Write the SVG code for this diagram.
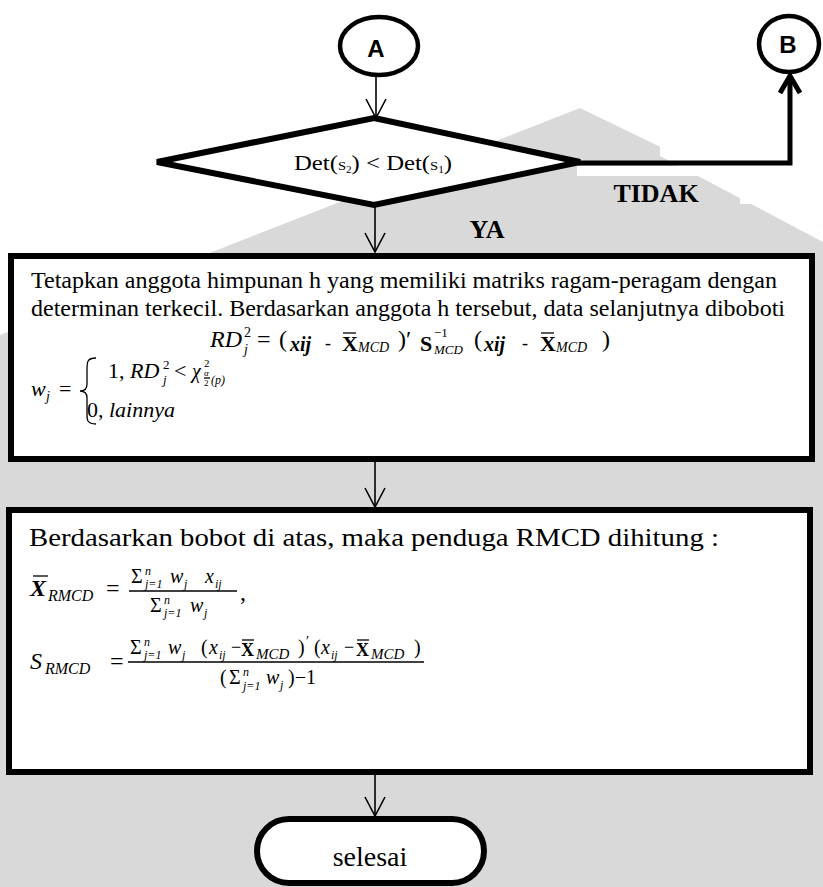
<svg xmlns="http://www.w3.org/2000/svg" width="823" height="887" viewBox="0 0 823 887">
<defs>
<style>
.bg{fill:#d9d9d9}
.node{fill:#fff;stroke:#000;stroke-width:6}
.circ{fill:#fff;stroke:#000;stroke-width:4.5}
.conn{fill:none;stroke:#000;stroke-width:1.6}
.thick{fill:none;stroke:#000;stroke-width:5}
.s{font-family:"Liberation Serif","Times New Roman",serif;fill:#000}
.sans{font-family:"Liberation Sans",Arial,sans-serif;font-weight:bold;font-size:24px;fill:#000}
.lbl{font-family:"Liberation Serif","Times New Roman",serif;font-weight:bold;font-size:26px;fill:#000}
.it{font-style:italic}
.bd{font-weight:bold}
.bar{stroke:#000;stroke-width:1.3;fill:none}
</style>
<marker id="open" markerUnits="userSpaceOnUse" viewBox="0 0 24 24" markerWidth="24" markerHeight="24" refX="22" refY="12" orient="auto"><path d="M3,2 L22,12 L3,22" fill="none" stroke="#000" stroke-width="1.6"/></marker>
<marker id="heavy" markerUnits="userSpaceOnUse" viewBox="0 0 28 28" markerWidth="28" markerHeight="28" refX="22" refY="14" orient="auto"><path d="M5,4 L22,14 L5,24" fill="none" stroke="#000" stroke-width="5"/></marker>
</defs>

<g id="background">
<rect width="823" height="887" fill="#fff"/>
<polygon class="bg" points="0,335 580,108 823,226 823,887 0,887"/>
<polygon fill="#fff" points="660,140 823,226 823,242 660,156"/>
<rect x="577" y="166" width="163" height="10" fill="#fff"/>
<rect x="740" y="166" width="83" height="38" fill="#fff"/>
</g>

<g id="connectors">
<path class="conn" d="M376,76 L376,118" marker-end="url(#open)"/>
<path class="conn" d="M375,205 L375,252" marker-end="url(#open)"/>
<path class="conn" d="M375,462 L375,507" marker-end="url(#open)"/>
<path class="conn" d="M375,775 L375,816" marker-end="url(#open)"/>
<path class="thick" d="M578,163 L790,163 L790,76" marker-end="url(#heavy)"/>
<text class="lbl" x="656" y="202" text-anchor="middle">TIDAK</text>
<text class="lbl" x="487" y="238" text-anchor="middle">YA</text>
</g>

<g id="nodeA">
<ellipse class="circ" cx="379" cy="46" rx="39" ry="29"/>
<text class="sans" x="376" y="57" text-anchor="middle">A</text>
</g>

<g id="nodeB">
<ellipse class="circ" cx="789" cy="44" rx="30" ry="28"/>
<text class="sans" x="788" y="53" text-anchor="middle">B</text>
</g>

<g id="decision">
<polygon class="node" points="374,118 580,162 374,205 157,162"/>
<text class="s" font-size="22" x="294" y="170" textLength="158" lengthAdjust="spacingAndGlyphs">Det(<tspan font-size="13">S</tspan><tspan font-size="10" dy="3">2</tspan><tspan dy="-3">) &lt; Det(</tspan><tspan font-size="13">S</tspan><tspan font-size="10" dy="3">1</tspan><tspan dy="-3">)</tspan></text>
</g>

<g id="process1">
<rect class="node" x="11" y="256" width="801" height="203"/>
<text class="s" font-size="24" x="31" y="288" textLength="746" lengthAdjust="spacingAndGlyphs">Tetapkan anggota himpunan h yang memiliki matriks ragam-peragam dengan</text>
<text class="s" font-size="24" x="31" y="316" textLength="754" lengthAdjust="spacingAndGlyphs">determinan terkecil. Berdasarkan anggota h tersebut, data selanjutnya diboboti</text>
<g id="rd-formula">
<text class="s it" font-size="24" x="210" y="347">RD</text>
<text class="s" font-size="14" x="244" y="337">2</text>
<text class="s it" font-size="14" x="244" y="354">j</text>
<text class="s" font-size="24" x="257" y="347">=</text>
<text class="s" font-size="24" x="279" y="347">(</text>
<text class="s it bd" font-size="20" x="290" y="351">xij</text>
<text class="s" font-size="18" x="325" y="349">-</text>
<text class="s bd" font-size="22" x="342" y="351">X</text>
<line class="bar" x1="343" y1="333" x2="356" y2="333"/>
<text class="s it" font-size="14" x="358" y="352">MCD</text>
<text class="s" font-size="24" x="398" y="347">)′</text>
<text class="s bd" font-size="22" x="420" y="351">S</text>
<text class="s" font-size="13" x="434" y="337">−1</text>
<text class="s it" font-size="13" x="434" y="354">MCD</text>
<text class="s" font-size="24" x="474" y="347">(</text>
<text class="s it bd" font-size="20" x="484" y="351">xij</text>
<text class="s" font-size="18" x="522" y="349">-</text>
<text class="s bd" font-size="22" x="540" y="351">X</text>
<line class="bar" x1="541" y1="333" x2="554" y2="333"/>
<text class="s it" font-size="14" x="556" y="352">MCD</text>
<text class="s" font-size="24" x="602" y="347">)</text>
</g>
<g id="w-formula">
<text class="s it" font-size="22" x="31" y="396">w</text>
<text class="s it" font-size="14" x="46" y="401">j</text>
<text class="s" font-size="22" x="59" y="396">=</text>
<path class="bar" d="M96,358 C87,358 87,362 87,370 L87,384 C87,389 84,391 80,391 C84,391 87,393 87,398 L87,414 C87,420 87,424 96,424"/>
<text class="s" font-size="22" x="108" y="378">1, <tspan class="it">RD</tspan></text>
<text class="s" font-size="13" x="163" y="369">2</text>
<text class="s it" font-size="13" x="163" y="384">j</text>
<text class="s" font-size="22" x="174" y="378">&lt;</text>
<text class="s it" font-size="20" x="192" y="378">χ</text>
<text class="s" font-size="11" x="204" y="367">2</text>
<text class="s it" font-size="9" x="204" y="376">α</text>
<line class="bar" x1="204" y1="378" x2="210" y2="378" stroke-width="0.8"/>
<text class="s" font-size="9" x="204" y="386">2</text>
<text class="s it" font-size="12" x="211" y="384">(p)</text>
<text class="s" font-size="22" x="87" y="417">0, <tspan class="it">lainnya</tspan></text>
</g>
</g>

<g id="process2">
<rect class="node" x="9" y="510" width="801" height="262"/>
<text class="s" font-size="25" x="29" y="546" textLength="690" lengthAdjust="spacingAndGlyphs">Berdasarkan bobot di atas, maka penduga  RMCD dihitung :</text>
<g id="x-formula">
<text class="s it bd" font-size="24" x="30" y="596">X</text>
<line class="bar" x1="33" y1="576" x2="48" y2="576" stroke-width="1.6"/>
<text class="s it" font-size="16" x="48" y="601">RMCD</text>
<text class="s" font-size="24" x="106" y="596">=</text>
<text class="s" font-size="20" x="131" y="583">Σ</text>
<text class="s it" font-size="12" x="145" y="575">n</text>
<text class="s it" font-size="12" x="145" y="588">j=1</text>
<text class="s it" font-size="20" x="170" y="583">w</text>
<text class="s it" font-size="12" x="184" y="588">j</text>
<text class="s it" font-size="20" x="205" y="583">x</text>
<text class="s it" font-size="12" x="215" y="588">ij</text>
<line class="bar" x1="129" y1="591" x2="237" y2="591"/>
<text class="s" font-size="20" x="150" y="612">Σ</text>
<text class="s it" font-size="12" x="164" y="604">n</text>
<text class="s it" font-size="12" x="164" y="617">j=1</text>
<text class="s it" font-size="20" x="190" y="612">w</text>
<text class="s it" font-size="12" x="204" y="617">j</text>
<text class="s" font-size="24" x="240" y="600">,</text>
</g>
<g id="s-formula">
<text class="s it" font-size="24" x="30" y="669">S</text>
<text class="s it" font-size="16" x="45" y="674">RMCD</text>
<text class="s" font-size="24" x="110" y="669">=</text>
<text class="s" font-size="20" x="130" y="654">Σ</text>
<text class="s it" font-size="12" x="144" y="646">n</text>
<text class="s it" font-size="12" x="144" y="659">j=1</text>
<text class="s it" font-size="20" x="168" y="654">w</text>
<text class="s it" font-size="12" x="182" y="659">j</text>
<text class="s" font-size="20" x="201" y="654">(</text>
<text class="s it" font-size="20" x="209" y="654">x</text>
<text class="s it" font-size="12" x="219" y="659">ij</text>
<text class="s" font-size="18" x="231" y="653">−</text>
<text class="s bd" font-size="18" x="241" y="656">X</text>
<line class="bar" x1="242" y1="640" x2="254" y2="640"/>
<text class="s it" font-size="15" x="256" y="659">MCD</text>
<text class="s" font-size="20" x="298" y="654">)</text>
<text class="s" font-size="14" x="306" y="646">′</text>
<text class="s" font-size="20" x="314" y="654">(</text>
<text class="s it" font-size="20" x="321" y="654">x</text>
<text class="s it" font-size="12" x="331" y="659">ij</text>
<text class="s" font-size="18" x="344" y="653">−</text>
<text class="s bd" font-size="18" x="356" y="656">X</text>
<line class="bar" x1="357" y1="640" x2="369" y2="640"/>
<text class="s it" font-size="15" x="371" y="659">MCD</text>
<text class="s" font-size="20" x="414" y="654">)</text>
<line class="bar" x1="128" y1="662" x2="424" y2="662"/>
<text class="s" font-size="20" x="220" y="684">(</text>
<text class="s" font-size="20" x="229" y="684">Σ</text>
<text class="s it" font-size="12" x="243" y="676">n</text>
<text class="s it" font-size="12" x="243" y="690">j=1</text>
<text class="s it" font-size="20" x="266" y="684">w</text>
<text class="s it" font-size="12" x="280" y="689">j</text>
<text class="s" font-size="20" x="288" y="684">)−1</text>
</g>
</g>

<g id="end">
<rect class="node" x="257" y="819" width="227" height="64" rx="32"/>
<text class="s" font-size="28" x="370" y="866" text-anchor="middle">selesai</text>
</g>
</svg>
